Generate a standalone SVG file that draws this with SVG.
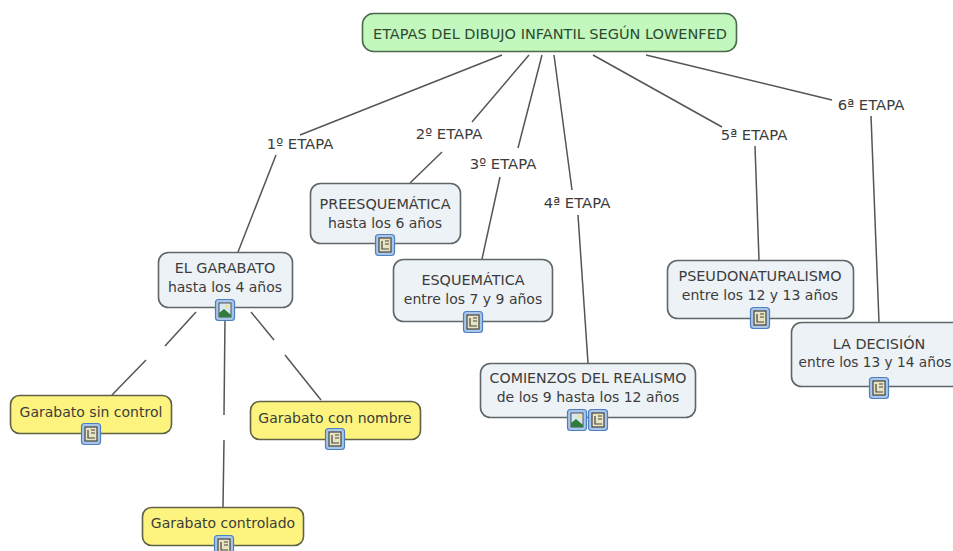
<svg xmlns="http://www.w3.org/2000/svg" width="953" height="551" viewBox="0 0 953 551">
<style>
text{font-family:"DejaVu Sans",Verdana,sans-serif;font-size:14px;fill:#3c3c3c;text-anchor:middle}
.u{font-size:14.4px}
.l{font-size:14.8px}
.n{fill:#edf2f6;stroke:#5f6668;stroke-width:1.6}
.y{fill:#fdf47f;stroke:#5f6246;stroke-width:1.6}
.g{fill:#c2f7bd;stroke:#4a6a4a;stroke-width:1.6}
.c line{stroke:#555;stroke-width:1.5}
.ib{fill:#a9c6e8;stroke:#4c7fc0;stroke-width:1.2}
.d{fill:#e8e4c0;stroke:#444;stroke-width:1.2}
.p{fill:#d8e8f0;stroke:#333;stroke-width:.8}
</style>
<defs>
<g id="doc"><rect class="ib" x="-9.5" y="-10.5" width="19" height="21" rx="3"/><rect class="d" x="-6" y="-7" width="12" height="14"/><path d="M-3-4V4H4M0-4H4M0-1H4" fill="none" stroke="#444" stroke-width="1.2"/></g>
<g id="pic"><rect class="ib" x="-9.5" y="-10.5" width="19" height="21" rx="3"/><rect class="p" x="-6" y="-7" width="12" height="14"/><circle cx="2" cy="-3.5" r="1.6" fill="#f3e46a"/><path d="M-6 7V3L-1-1 6 5V7Z" fill="#2e7d3a"/></g>
</defs>
<g class="c" id="connectors">
<line x1="502" y1="55" x2="300" y2="135"/><line x1="276" y1="155" x2="238" y2="252"/>
<line x1="529" y1="55" x2="472" y2="122"/><line x1="442" y1="152" x2="410" y2="183"/>
<line x1="542" y1="55" x2="518" y2="148"/><line x1="500" y1="177" x2="482" y2="259"/>
<line x1="554" y1="55" x2="572" y2="190"/><line x1="578" y1="215" x2="588" y2="363"/>
<line x1="593" y1="55" x2="722" y2="127"/><line x1="755" y1="146" x2="759" y2="260"/>
<line x1="646" y1="55" x2="832" y2="100"/><line x1="871" y1="116" x2="879" y2="322"/>
<line x1="196" y1="312" x2="165" y2="346"/><line x1="146" y1="360" x2="112" y2="395"/>
<line x1="225" y1="318" x2="224" y2="415"/><line x1="224" y1="440" x2="223" y2="507"/>
<line x1="251" y1="312" x2="274" y2="340"/><line x1="285" y1="355" x2="321" y2="400"/>
</g>
<g id="root"><rect class="g" x="362.500" y="13.500" width="374" height="38" rx="11"/><text class="u" x="550" y="39" style="fill:#2e4a30;font-size:14.5px">ETAPAS DEL DIBUJO INFANTIL SEGÚN LOWENFED</text></g>
<g id="l1"><text class="l" x="300" y="149">1º ETAPA</text></g>
<g id="l2"><text class="l" x="449" y="139">2º ETAPA</text></g>
<g id="l3"><text class="l" x="503" y="169">3º ETAPA</text></g>
<g id="l4"><text class="l" x="577" y="208">4ª ETAPA</text></g>
<g id="l5"><text class="l" x="754" y="140">5ª ETAPA</text></g>
<g id="l6"><text class="l" x="871" y="110">6ª ETAPA</text></g>
<g id="garabato"><rect class="n" x="158.500" y="252.500" width="134" height="55" rx="10"/><text class="u" x="225" y="273">EL GARABATO</text><text x="225" y="292">hasta los 4 años</text><use href="#pic" x="225" y="310"/></g>
<g id="pre"><rect class="n" x="310.500" y="183.500" width="150" height="60" rx="10"/><text class="u" x="385" y="209">PREESQUEMÁTICA</text><text x="385" y="228">hasta los 6 años</text><use href="#doc" x="385" y="245"/></g>
<g id="esq"><rect class="n" x="393.500" y="259.500" width="159" height="62" rx="10"/><text class="u" x="473" y="285">ESQUEMÁTICA</text><text x="473" y="304">entre los 7 y 9 años</text><use href="#doc" x="473" y="322"/></g>
<g id="real"><rect class="n" x="480.500" y="363.500" width="215" height="54" rx="10"/><text x="588" y="383" style="font-size:14.2px">COMIENZOS DEL REALISMO</text><text x="588" y="402">de los 9 hasta los 12 años</text><use href="#pic" x="577" y="420"/><use href="#doc" x="598" y="420"/></g>
<g id="pseudo"><rect class="n" x="667.500" y="260.500" width="186" height="58" rx="10"/><text class="u" x="760" y="281">PSEUDONATURALISMO</text><text x="760" y="300">entre los 12 y 13 años</text><use href="#doc" x="760" y="318"/></g>
<g id="decision"><rect class="n" x="791.500" y="322.500" width="175" height="64" rx="10"/><text class="u" x="879" y="349">LA DECISIÓN</text><text x="875" y="367" style="font-size:13.7px">entre los 13 y 14 años</text><use href="#doc" x="879" y="388"/></g>
<g id="sin"><rect class="y" x="10.500" y="395.500" width="161" height="38" rx="9"/><text x="91" y="417">Garabato sin control</text><use href="#doc" x="91" y="434"/></g>
<g id="con"><rect class="y" x="250.500" y="401.500" width="170" height="38" rx="9"/><text x="335" y="423">Garabato con nombre</text><use href="#doc" x="335" y="439"/></g>
<g id="ctrl"><rect class="y" x="142.500" y="507.500" width="161" height="38" rx="9"/><text x="223" y="528">Garabato controlado</text><use href="#doc" x="224" y="546"/></g>
</svg>
